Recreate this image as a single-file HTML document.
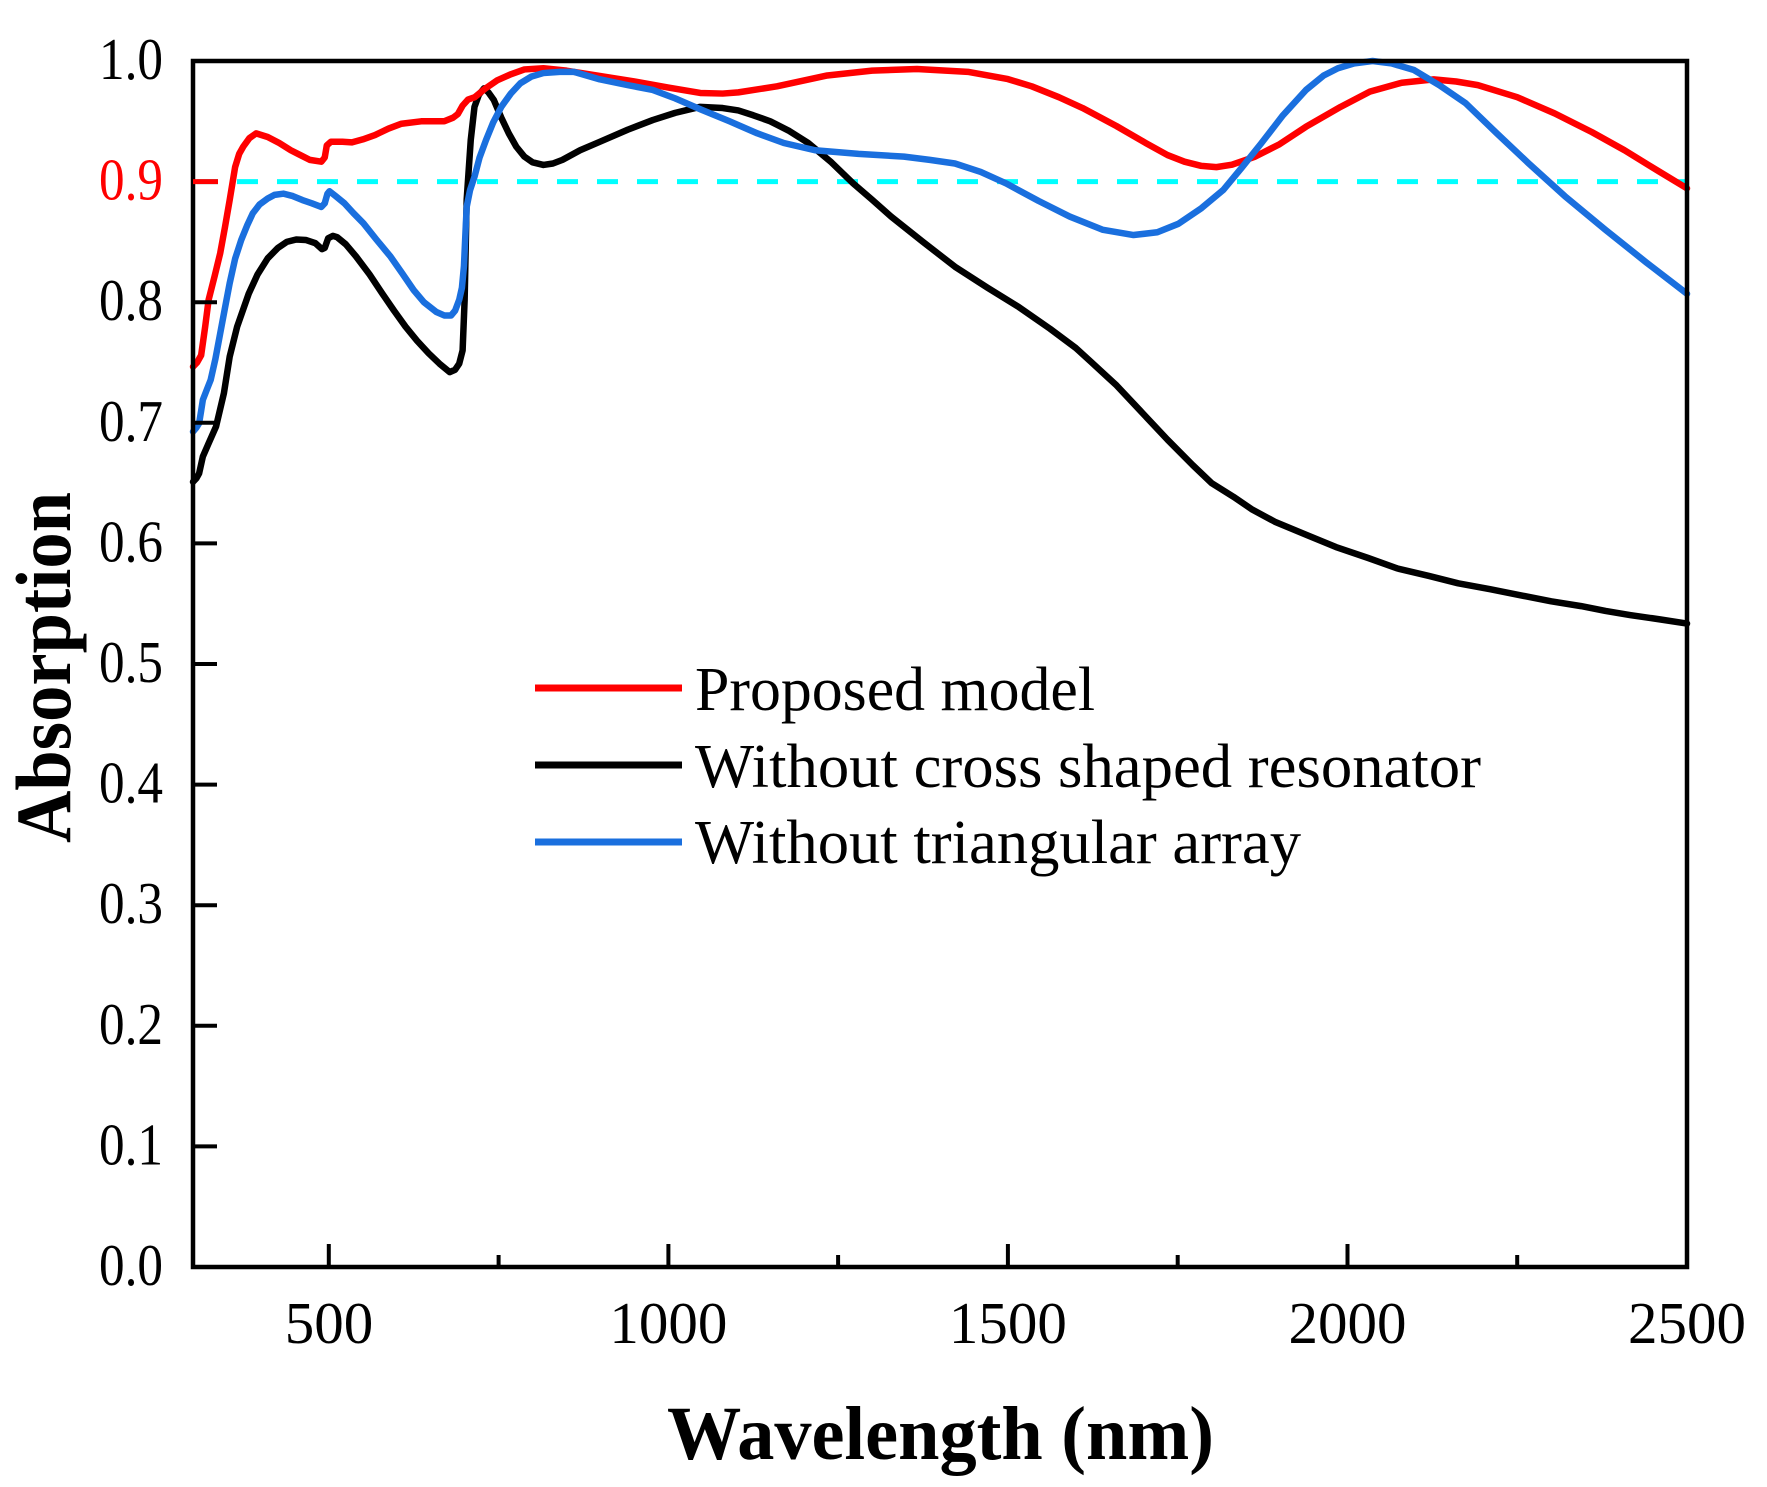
<!DOCTYPE html>
<html>
<head>
<meta charset="utf-8">
<style>
  html, body { margin:0; padding:0; background:#fff; }
  svg { display:block; }
  text { font-family: "Liberation Serif", "Times New Roman", serif; }
</style>
</head>
<body>
<svg width="1767" height="1487" viewBox="0 0 1767 1487" xmlns="http://www.w3.org/2000/svg">
  <rect x="0" y="0" width="1767" height="1487" fill="#fff"/>

  <!-- dashed 0.9 line -->
  <line x1="197" y1="181.6" x2="1685" y2="181.6" stroke="#00ffff" stroke-width="5" stroke-dasharray="21 19"/>

  <!-- curves in data coords -->
  <g transform="matrix(0.67909 0 0 -1206 -10.727 1267)" fill="none" stroke-linejoin="round" stroke-linecap="round">
    <polyline vector-effect="non-scaling-stroke" stroke="#000" stroke-width="6.5" points="
300,0.651 305,0.654 309,0.658 314.5,0.672 323,0.683 334,0.697 345.5,0.7245 354,0.7548 365,0.7797 382,0.807 395,0.823 410,0.8364 425,0.845 438,0.850 452,0.852 466,0.8516 480,0.849 490,0.844 494,0.845 499,0.853 506,0.855 512,0.854 525,0.848 540,0.838 560,0.823 579,0.807 596,0.793 613,0.7797 630,0.768 647,0.7576 663,0.749 678,0.742 686,0.744 692,0.749 697,0.760 700,0.802 703,0.885 709,0.9345 714.5,0.962 721,0.972 728.5,0.9773 735,0.974 743,0.9677 754,0.953 765,0.940 776,0.929 788,0.9207 800,0.916 816,0.9138 830,0.915 844,0.918 870,0.926 899,0.933 940,0.943 977,0.951 1010,0.957 1047,0.962 1080,0.961 1103,0.959 1125,0.955 1150,0.950 1178,0.942 1206,0.932 1240,0.916 1272,0.8986 1300,0.885 1328,0.871 1375,0.850 1422,0.8294 1470,0.812 1516,0.796 1562,0.778 1600,0.762 1622,0.7507 1660,0.731 1694,0.7106 1735,0.686 1772,0.665 1800,0.650 1832,0.6387 1860,0.628 1893,0.618 1940,0.607 1983,0.597 2030,0.588 2073,0.5793 2120,0.573 2163,0.5669 2210,0.562 2253,0.5572 2300,0.552 2344,0.548 2380,0.544 2416,0.5406 2460,0.537 2500,0.5335"/>
    <polyline vector-effect="non-scaling-stroke" stroke="#ff0000" stroke-width="6.5" points="
300,0.7465 306,0.750 312,0.756 318,0.780 323,0.802 332,0.822 340,0.8405 347,0.862 354,0.8847 362,0.912 368,0.923 374,0.929 383,0.936 393,0.940 410,0.937 427,0.932 444,0.926 458,0.922 472,0.918 489,0.9165 494,0.920 497,0.930 503,0.933 520,0.933 534,0.9325 550,0.935 568,0.9386 588,0.944 607,0.948 636,0.950 655,0.950 670,0.950 683,0.953 690,0.956 697,0.963 705,0.968 715,0.970 730,0.977 748,0.984 768,0.989 788,0.993 816,0.994 850,0.992 899,0.9876 950,0.983 1000,0.978 1047,0.9735 1080,0.973 1103,0.974 1160,0.979 1234,0.988 1300,0.992 1366,0.9934 1441,0.991 1500,0.985 1535,0.979 1575,0.970 1610,0.961 1660,0.946 1703,0.932 1735,0.922 1760,0.9165 1785,0.913 1807,0.912 1830,0.914 1864,0.9207 1900,0.931 1939,0.9455 1990,0.962 2033,0.9746 2080,0.982 2127,0.9848 2160,0.983 2192,0.980 2250,0.970 2305,0.9566 2360,0.941 2408,0.926 2460,0.908 2500,0.8944"/>
    <polyline vector-effect="non-scaling-stroke" stroke="#1a6fde" stroke-width="6.5" points="
300,0.6926 305,0.696 309,0.6996 312,0.710 314.5,0.719 320,0.727 326,0.7355 333,0.753 340,0.774 347,0.795 354,0.8157 362,0.836 371,0.8516 380,0.864 388,0.8737 398,0.881 410,0.886 420,0.889 433,0.890 447,0.888 461,0.8847 475,0.882 489,0.879 494,0.882 498,0.890 501,0.892 510,0.888 523,0.882 536,0.874 551,0.8654 570,0.852 591,0.8377 608,0.824 625,0.810 640,0.800 658,0.792 670,0.789 680,0.789 686,0.793 692,0.802 696,0.812 699,0.830 701,0.855 703,0.879 708,0.893 714.5,0.904 722,0.920 731.5,0.9345 742,0.949 754,0.962 768,0.973 782,0.9815 798,0.987 816,0.990 840,0.991 861,0.991 899,0.9848 940,0.980 977,0.976 1010,0.969 1047,0.960 1090,0.950 1131,0.940 1170,0.932 1216,0.926 1280,0.923 1347,0.9207 1385,0.918 1422,0.915 1460,0.908 1497,0.8986 1545,0.884 1591,0.871 1640,0.860 1685,0.8557 1720,0.858 1751,0.865 1785,0.878 1817,0.893 1845,0.912 1873,0.9317 1905,0.955 1939,0.976 1965,0.988 1986,0.994 2010,0.998 2037,1.0 2065,0.998 2098,0.9925 2135,0.980 2174,0.965 2220,0.940 2267,0.915 2320,0.888 2380,0.860 2440,0.833 2500,0.807"/>
  </g>

  <!-- axes frame -->
  <rect x="193" y="61" width="1494" height="1206" fill="none" stroke="#000" stroke-width="4.5"/>

  <!-- y ticks -->
  <g stroke="#000" stroke-width="4">
    <line x1="193" y1="1146.4" x2="217" y2="1146.4"/>
    <line x1="193" y1="1025.8" x2="217" y2="1025.8"/>
    <line x1="193" y1="905.2" x2="217" y2="905.2"/>
    <line x1="193" y1="784.6" x2="217" y2="784.6"/>
    <line x1="193" y1="664" x2="217" y2="664"/>
    <line x1="193" y1="543.4" x2="217" y2="543.4"/>
    <line x1="193" y1="422.8" x2="217" y2="422.8"/>
    <line x1="193" y1="302.2" x2="217" y2="302.2"/>
  </g>
  <line x1="193" y1="181.6" x2="218" y2="181.6" stroke="#ff0000" stroke-width="5"/>

  <!-- x ticks -->
  <g stroke="#000" stroke-width="4">
    <line x1="328.8" y1="1267" x2="328.8" y2="1244"/>
    <line x1="668.4" y1="1267" x2="668.4" y2="1244"/>
    <line x1="1007.9" y1="1267" x2="1007.9" y2="1244"/>
    <line x1="1347.5" y1="1267" x2="1347.5" y2="1244"/>
    <line x1="498.6" y1="1267" x2="498.6" y2="1255"/>
    <line x1="838.1" y1="1267" x2="838.1" y2="1255"/>
    <line x1="1177.7" y1="1267" x2="1177.7" y2="1255"/>
    <line x1="1517.2" y1="1267" x2="1517.2" y2="1255"/>
  </g>

  <!-- y tick labels -->
  <g font-size="59" text-anchor="end" fill="#000">
    <text x="163" y="1285" textLength="64" lengthAdjust="spacingAndGlyphs">0.0</text>
    <text x="163" y="1164.4" textLength="64" lengthAdjust="spacingAndGlyphs">0.1</text>
    <text x="163" y="1043.8" textLength="64" lengthAdjust="spacingAndGlyphs">0.2</text>
    <text x="163" y="923.2" textLength="64" lengthAdjust="spacingAndGlyphs">0.3</text>
    <text x="163" y="802.6" textLength="64" lengthAdjust="spacingAndGlyphs">0.4</text>
    <text x="163" y="682" textLength="64" lengthAdjust="spacingAndGlyphs">0.5</text>
    <text x="163" y="561.4" textLength="64" lengthAdjust="spacingAndGlyphs">0.6</text>
    <text x="163" y="440.8" textLength="64" lengthAdjust="spacingAndGlyphs">0.7</text>
    <text x="163" y="320.2" textLength="64" lengthAdjust="spacingAndGlyphs">0.8</text>
    <text x="163" y="199.6" textLength="64" lengthAdjust="spacingAndGlyphs" fill="#ff0000">0.9</text>
    <text x="163" y="79" textLength="64" lengthAdjust="spacingAndGlyphs">1.0</text>
  </g>

  <!-- x tick labels -->
  <g font-size="59" text-anchor="middle" fill="#000">
    <text x="329" y="1343">500</text>
    <text x="668.4" y="1343">1000</text>
    <text x="1007.9" y="1343">1500</text>
    <text x="1347.5" y="1343">2000</text>
    <text x="1687" y="1343">2500</text>
  </g>

  <!-- axis titles -->
  <text x="940.5" y="1459" font-size="76" font-weight="bold" text-anchor="middle" textLength="547" lengthAdjust="spacingAndGlyphs">Wavelength (nm)</text>
  <text transform="translate(70,667.5) rotate(-90)" x="0" y="0" font-size="78" font-weight="bold" text-anchor="middle" textLength="351" lengthAdjust="spacingAndGlyphs">Absorption</text>

  <!-- legend -->
  <line x1="535" y1="688" x2="682" y2="688" stroke="#ff0000" stroke-width="7"/>
  <line x1="535" y1="765" x2="682" y2="765" stroke="#000" stroke-width="7"/>
  <line x1="535" y1="842" x2="682" y2="842" stroke="#1a6fde" stroke-width="7"/>
  <g font-size="62.5" fill="#000">
    <text x="695" y="710" textLength="400" lengthAdjust="spacingAndGlyphs">Proposed model</text>
    <text x="695" y="787" textLength="786" lengthAdjust="spacingAndGlyphs">Without cross shaped resonator</text>
    <text x="695" y="863" textLength="606" lengthAdjust="spacingAndGlyphs">Without triangular array</text>
  </g>
</svg>
</body>
</html>
